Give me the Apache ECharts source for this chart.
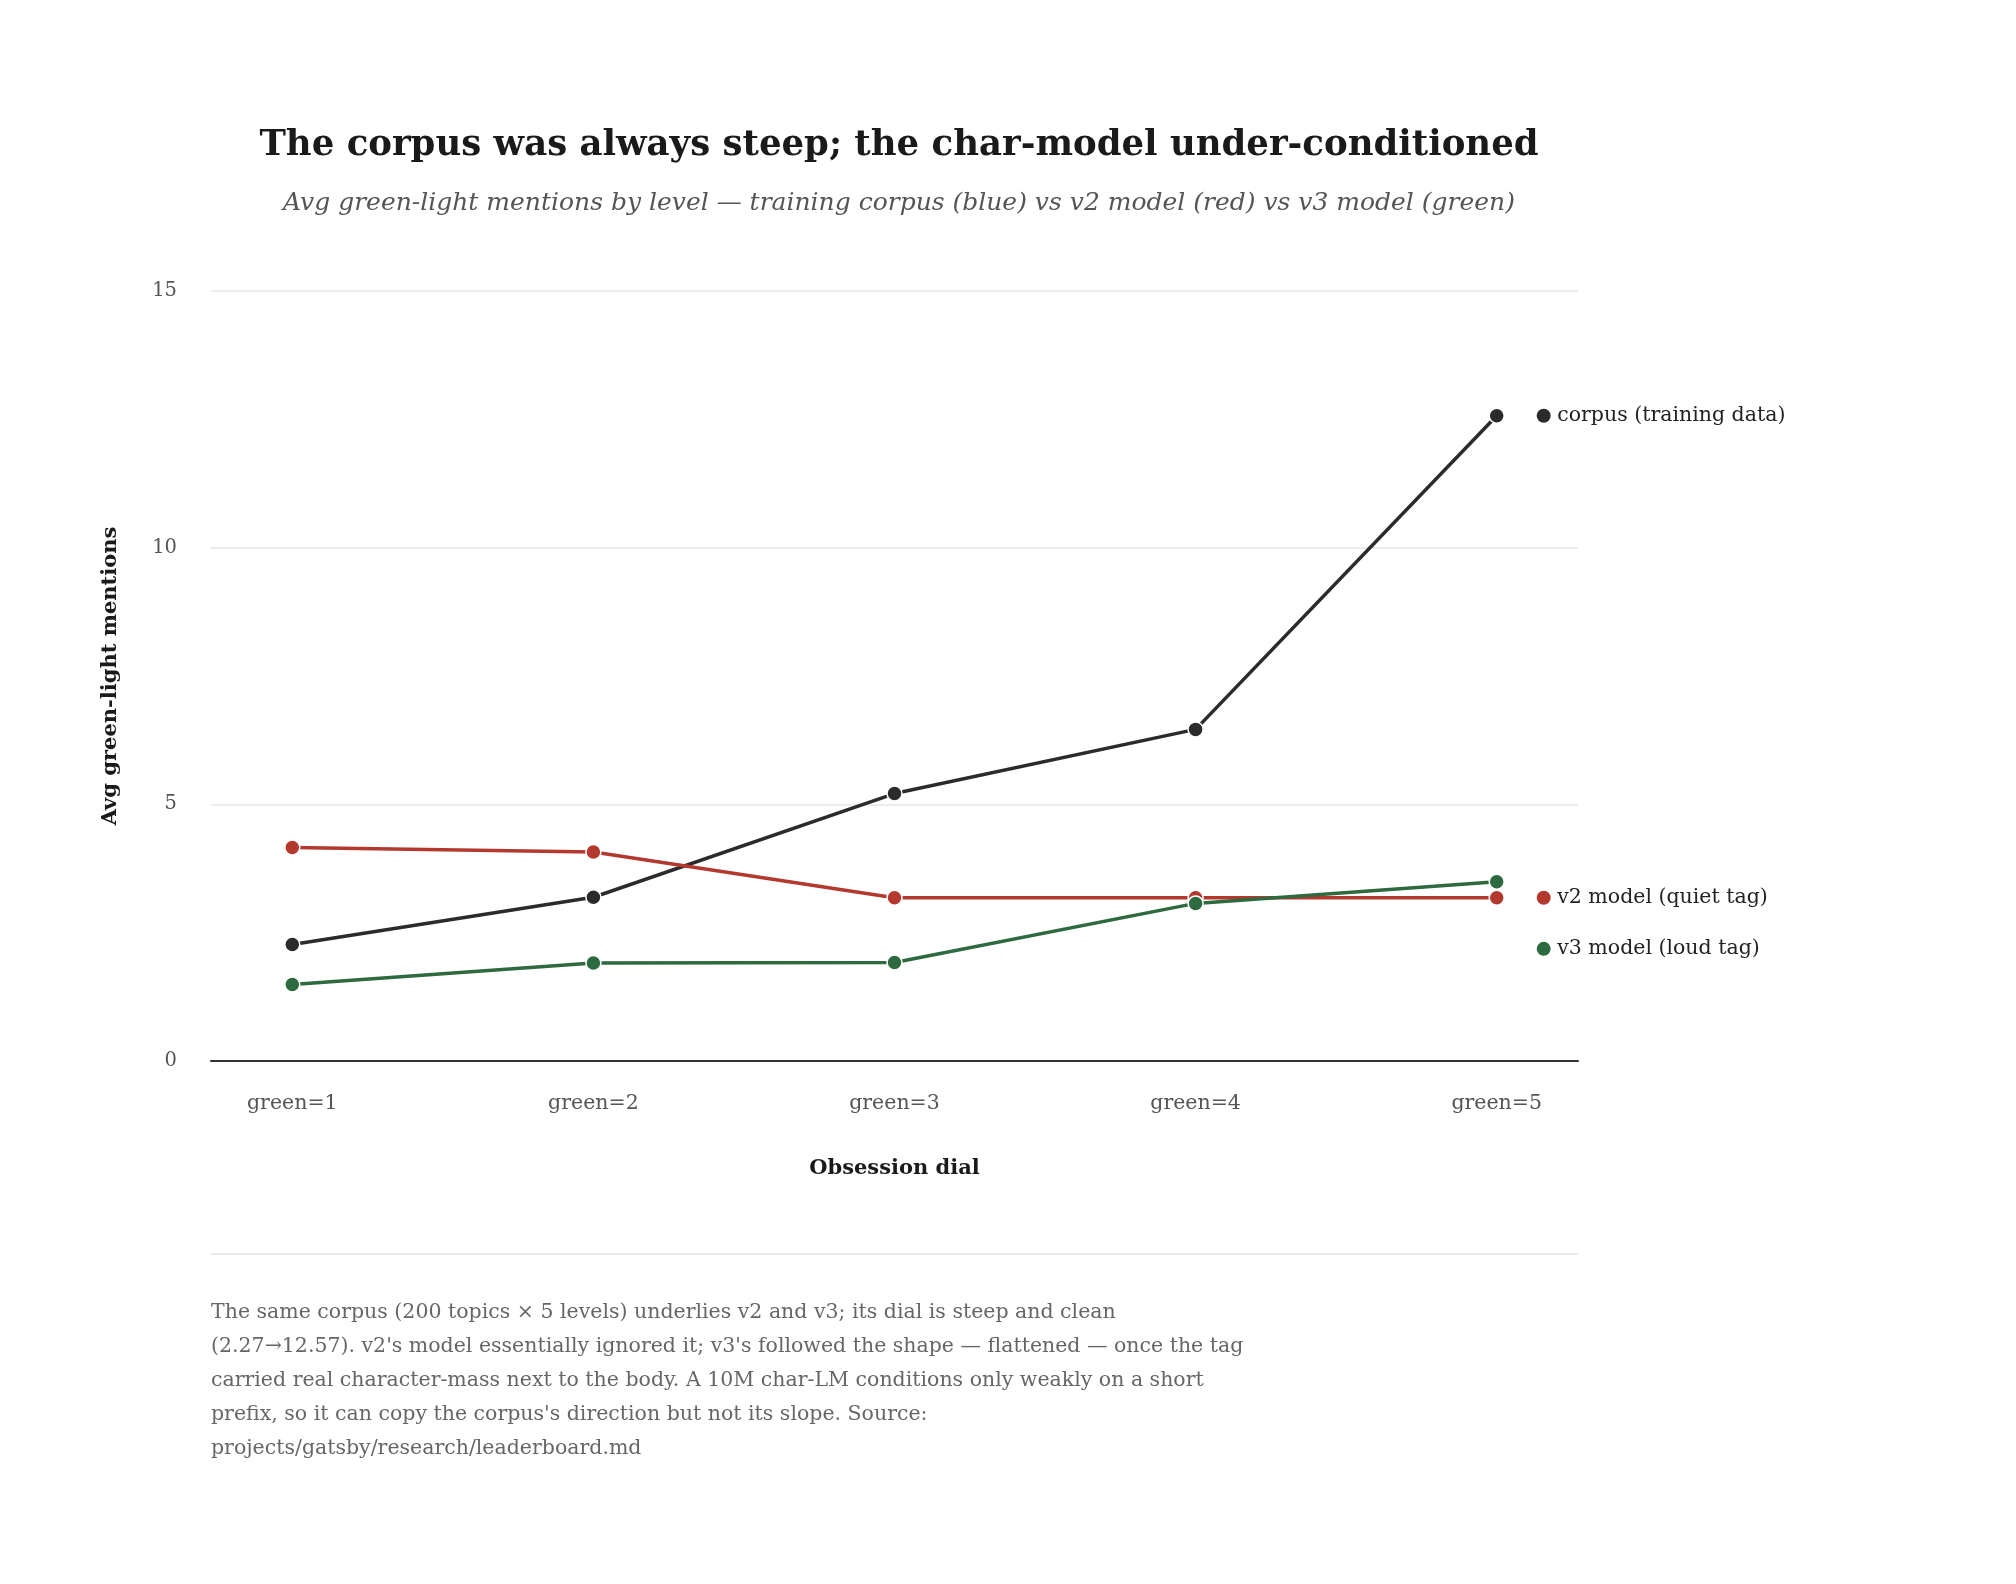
<!DOCTYPE html>
<html>
<head>
<meta charset="utf-8">
<title>corpus vs model</title>
<script src="https://cdn.jsdelivr.net/npm/echarts@6/dist/echarts.min.js"></script>
<style>
  html, body { margin: 0; padding: 0; background: #fff; }
  #chart { width: 2016px; height: 1584px; }
</style>
</head>
<body>
<div id="chart"></div>
<script>
// dial levels and averages
const levels = [1, 2, 3, 4, 5];
const levelLabels = ['green=1', 'green=2', 'green=3', 'green=4', 'green=5'];
const corpus = [2.27, 3.19, 5.21, 6.46, 12.57];
const v2Model = [4.16, 4.07, 3.18, 3.18, 3.18];
const v3Model = [1.49, 1.91, 1.92, 3.07, 3.49];
const yTicks = [0, 5, 10, 15];

const FONT = '"DejaVu Serif", serif';
const footnote = "The same corpus (200 topics \u00d7 5 levels) underlies v2 and v3; its dial is steep and clean\n" +
  "(2.27\u219212.57). v2's model essentially ignored it; v3's followed the shape \u2014 flattened \u2014 once the tag\n" +
  "carried real character-mass next to the body. A 10M char-LM conditions only weakly on a short\n" +
  "prefix, so it can copy the corpus's direction but not its slope. Source:\n" +
  "projects/gatsby/research/leaderboard.md";

const pairs = (vals) => vals.map((v, i) => [levels[i], v]);

const makeSeries = (name, vals, color, labelOffset) => ({
  name: name,
  type: 'line',
  data: pairs(vals),
  symbol: 'circle',
  symbolSize: 15,
  lineStyle: { color: color, width: 3.5 },
  itemStyle: { color: color, borderColor: '#fff', borderWidth: 1.5 },
  emphasis: { disabled: true },
  endLabel: {
    show: true,
    distance: 40,
    offset: labelOffset,
    formatter: '{d|} ' + name,
    color: '#222',
    fontFamily: FONT,
    fontSize: 20.5,
    rich: {
      d: { backgroundColor: color, width: 14, height: 14, borderRadius: 7 }
    }
  }
});

const chart = echarts.init(document.getElementById('chart'));
chart.setOption({
  backgroundColor: '#fff',
  animation: false,
  textStyle: { fontFamily: FONT },
  title: [
    {
      text: 'The corpus was always steep; the char-model under-conditioned',
      subtext: 'Avg green-light mentions by level \u2014 training corpus (blue) vs v2 model (red) vs v3 model (green)',
      left: 894,
      textAlign: 'center',
      top: 123,
      itemGap: 27,
      textStyle: { fontFamily: FONT, fontSize: 35.5, fontWeight: 'bold', color: '#1a1a1a' },
      subtextStyle: { fontFamily: FONT, fontSize: 25, fontStyle: 'italic', color: '#555' }
    },
    {
      text: footnote,
      left: 211,
      top: 1296,
      padding: 0,
      textStyle: { fontFamily: FONT, fontSize: 20.5, fontWeight: 'normal', color: '#666', lineHeight: 34 }
    }
  ],
  grid: { left: 211, right: 438, top: 291, bottom: 523 },
  xAxis: {
    type: 'value',
    min: 0.73,
    max: 5.27,
    name: 'Obsession dial',
    nameLocation: 'middle',
    nameGap: 97,
    nameTextStyle: { fontFamily: FONT, fontSize: 21, fontWeight: 'bold', color: '#1a1a1a' },
    axisLine: { show: true, lineStyle: { color: '#333', width: 2 } },
    axisTick: { show: false },
    splitLine: { show: false },
    axisLabel: {
      customValues: levels,
      formatter: (v) => levelLabels[levels.indexOf(v)] || '',
      margin: 32,
      fontSize: 20.5,
      color: '#555',
      fontFamily: FONT
    }
  },
  yAxis: {
    type: 'value',
    min: yTicks[0],
    max: yTicks[yTicks.length - 1],
    interval: 5,
    name: 'Avg green-light mentions',
    nameLocation: 'middle',
    nameGap: 90,
    nameTextStyle: { fontFamily: FONT, fontSize: 21, fontWeight: 'bold', color: '#1a1a1a' },
    axisLine: { show: false },
    axisTick: { show: false },
    splitLine: { lineStyle: { color: '#e6e6e6', width: 1.5 } },
    axisLabel: { margin: 34, fontSize: 19.5, color: '#555', fontFamily: FONT }
  },
  series: [
    makeSeries('corpus (training data)', corpus, '#2b2b2b', [0, 0]),
    makeSeries('v2 model (quiet tag)', v2Model, '#b3392f', [0, 0]),
    makeSeries('v3 model (loud tag)', v3Model, '#2d6a3f', [0, 67])
  ],
  graphic: [
    {
      type: 'line',
      shape: { x1: 211, y1: 1254, x2: 1578, y2: 1254 },
      style: { stroke: '#e3e3e3', lineWidth: 1.5 }
    }
  ]
});
</script>
</body>
</html>
